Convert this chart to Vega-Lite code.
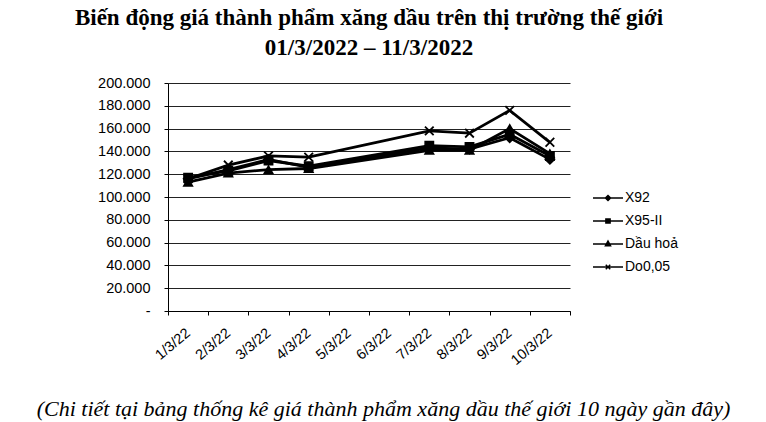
{
  "$schema": "https://vega.github.io/schema/vega-lite/v6.json",
  "autosize": "none",
  "width": 402,
  "height": 228,
  "padding": {"left": 168, "top": 83, "right": 196, "bottom": 111},
  "background": "white",
  "title": {
    "text": ["Biến động giá thành phẩm xăng dầu trên thị trường thế giới", "01/3/2022 – 11/3/2022"],
    "font": "Liberation Serif",
    "fontSize": 23,
    "fontWeight": "bold",
    "color": "black",
    "lineHeight": 30,
    "anchor": "middle",
    "offset": 15
  },
  "data": {
    "values": [
      {"date": "1/3/22", "series": "X92", "price": 116000},
      {"date": "2/3/22", "series": "X92", "price": 124000},
      {"date": "3/3/22", "series": "X92", "price": 133000},
      {"date": "4/3/22", "series": "X92", "price": 126000},
      {"date": "7/3/22", "series": "X92", "price": 143000},
      {"date": "8/3/22", "series": "X92", "price": 142000},
      {"date": "9/3/22", "series": "X92", "price": 152000},
      {"date": "10/3/22", "series": "X92", "price": 133000},
      {"date": "1/3/22", "series": "X95-II", "price": 117000},
      {"date": "2/3/22", "series": "X95-II", "price": 123000},
      {"date": "3/3/22", "series": "X95-II", "price": 132000},
      {"date": "4/3/22", "series": "X95-II", "price": 127000},
      {"date": "7/3/22", "series": "X95-II", "price": 145000},
      {"date": "8/3/22", "series": "X95-II", "price": 144000},
      {"date": "9/3/22", "series": "X95-II", "price": 155000},
      {"date": "10/3/22", "series": "X95-II", "price": 136000},
      {"date": "1/3/22", "series": "Dầu hoả", "price": 113000},
      {"date": "2/3/22", "series": "Dầu hoả", "price": 121000},
      {"date": "3/3/22", "series": "Dầu hoả", "price": 124000},
      {"date": "4/3/22", "series": "Dầu hoả", "price": 125000},
      {"date": "7/3/22", "series": "Dầu hoả", "price": 141000},
      {"date": "8/3/22", "series": "Dầu hoả", "price": 141000},
      {"date": "9/3/22", "series": "Dầu hoả", "price": 160000},
      {"date": "10/3/22", "series": "Dầu hoả", "price": 138000},
      {"date": "1/3/22", "series": "Do0,05", "price": 116000},
      {"date": "2/3/22", "series": "Do0,05", "price": 128000},
      {"date": "3/3/22", "series": "Do0,05", "price": 136000},
      {"date": "4/3/22", "series": "Do0,05", "price": 135000},
      {"date": "7/3/22", "series": "Do0,05", "price": 158000},
      {"date": "8/3/22", "series": "Do0,05", "price": 156000},
      {"date": "9/3/22", "series": "Do0,05", "price": 176000},
      {"date": "10/3/22", "series": "Do0,05", "price": 148000}
    ]
  },
  "encoding": {
    "x": {
      "field": "date",
      "type": "nominal",
      "sort": null,
      "scale": {"domain": ["1/3/22", "2/3/22", "3/3/22", "4/3/22", "5/3/22", "6/3/22", "7/3/22", "8/3/22", "9/3/22", "10/3/22"], "paddingInner": 0, "paddingOuter": 0},
      "axis": {
        "title": "(Chi tiết tại bảng thống kê giá thành phẩm xăng dầu thế giới 10 ngày gần đây)",
        "titleFont": "Liberation Serif",
        "titleFontStyle": "italic",
        "titleFontWeight": "normal",
        "titleFontSize": 22,
        "titleColor": "black",
        "titleX": 215,
        "titleY": 97,
        "titleBaseline": "middle",
        "labelAngle": -40,
        "labelAlign": "right",
        "labelBaseline": "middle",
        "labelFont": "Liberation Sans",
        "labelFontSize": 14.5,
        "labelColor": "black",
        "labelPadding": 16,
        "tickBand": "extent",
        "tickSize": 4,
        "tickColor": "black",
        "domainColor": "black",
        "grid": false
      }
    },
    "y": {
      "field": "price",
      "type": "quantitative",
      "scale": {"domain": [0, 200000], "nice": false},
      "axis": {
        "title": null,
        "values": [0, 20000, 40000, 60000, 80000, 100000, 120000, 140000, 160000, 180000, 200000],
        "labelExpr": "datum.value == 0 ? '-' : replace(format(datum.value, ',.0f'), ',', '.')",
        "labelFont": "Liberation Sans",
        "labelFontSize": 14.5,
        "labelColor": "black",
        "labelPadding": 14,
        "ticks": true,
        "tickSize": 4,
        "tickColor": "black",
        "grid": true,
        "gridColor": "#222222",
        "gridWidth": 1,
        "domainColor": "black"
      }
    }
  },
  "layer": [
    {
      "mark": {"type": "line", "strokeWidth": 2.8},
      "encoding": {
        "color": {
          "field": "series",
          "type": "nominal",
          "scale": {"domain": ["X92", "X95-II", "Dầu hoả", "Do0,05"], "range": ["black", "black", "black", "black"]},
          "legend": {
            "title": null,
            "orient": "none",
            "legendX": 424,
            "legendY": 99,
            "symbolSize": 900,
            "labelFont": "Liberation Sans",
            "labelFontSize": 14,
            "labelColor": "black",
            "labelOffset": 1,
            "rowPadding": -2,
            "encode": {
              "symbols": {
                "update": {
                  "shape": {"signal": "datum.value === 'X92' ? 'M-1,0L1,0M0,-0.17L0.17,0L0,0.17L-0.17,0Z' : datum.value === 'X95-II' ? 'M-1,0L1,0M-0.14,-0.14L0.14,-0.14L0.14,0.14L-0.14,0.14Z' : datum.value === 'Dầu hoả' ? 'M-1,0L1,0M0,-0.2L0.17,0.12L-0.17,0.12Z' : 'M-1,0L1,0M-0.15,-0.15L0.15,0.15M-0.15,0.15L0.15,-0.15'"},
                  "size": {"value": 900},
                  "fill": {"value": "black"},
                  "stroke": {"value": "black"},
                  "strokeWidth": {"value": 1.5},
                  "opacity": {"value": 1}
                }
              }
            }
          }
        }
      }
    },
    {
      "transform": [{"filter": "datum.series === 'X92'"}],
      "mark": {"type": "point", "shape": "diamond", "filled": true, "color": "black", "stroke": "black", "strokeWidth": 1.5, "size": 85, "opacity": 1}
    },
    {
      "transform": [{"filter": "datum.series === 'X95-II'"}],
      "mark": {"type": "point", "shape": "square", "filled": true, "color": "black", "stroke": "black", "strokeWidth": 1.5, "size": 70, "opacity": 1}
    },
    {
      "transform": [{"filter": "datum.series === 'Dầu hoả'"}],
      "mark": {"type": "point", "shape": "triangle-up", "filled": true, "color": "black", "stroke": "black", "strokeWidth": 1.5, "size": 75, "opacity": 1}
    },
    {
      "transform": [{"filter": "datum.series === 'Do0,05'"}],
      "mark": {"type": "point", "shape": "M-1,-1L1,1M-1,1L1,-1", "filled": false, "color": "black", "stroke": "black", "strokeWidth": 1.8, "size": 75, "opacity": 1}
    }
  ],
  "config": {
    "view": {"stroke": null}
  }
}
